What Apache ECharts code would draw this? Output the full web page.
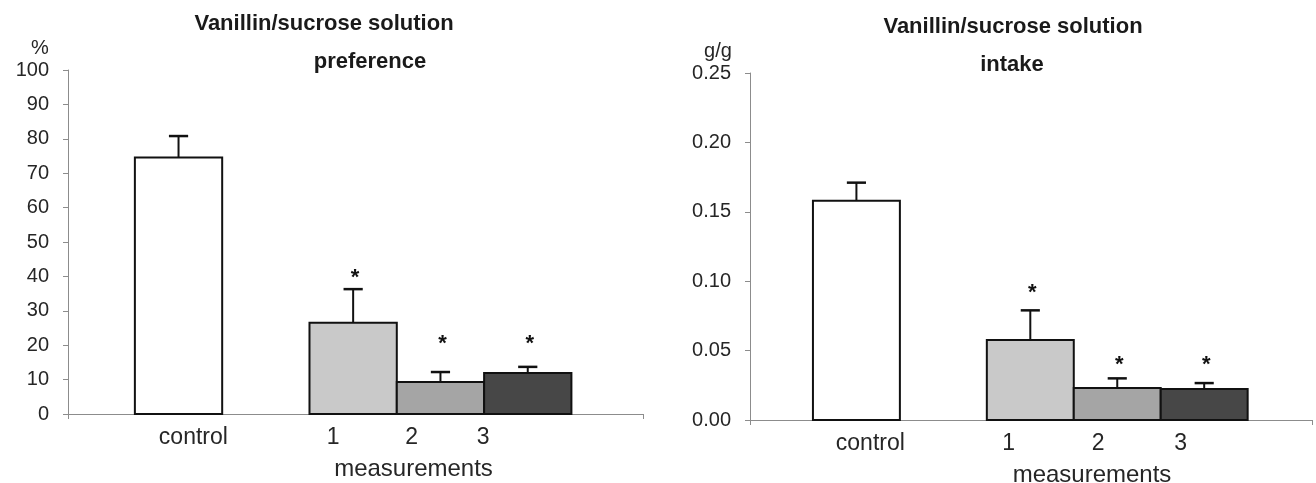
<!DOCTYPE html>
<html>
<head>
<meta charset="utf-8">
<script src="https://cdn.jsdelivr.net/npm/echarts@6/dist/echarts.min.js"></script>
<style>
  html, body { margin: 0; padding: 0; background: #fff; }
  #main { width: 1316px; height: 483px; }
</style>
</head>
<body>
<div id="main"></div>
<script>
// categories and slot on the x axis (one empty slot after control)
let categories = ['control', '1', '2', '3'];
let slotPos = [0, 2, 3, 4];

// preference (%)
let prefMean = [74.6, 26.5, 9.3, 11.9];
let prefSem = [6.2, 9.8, 2.9, 1.8];
let prefStar = [NaN, 41.3, 22.1, 22.1];

// intake (g/g)
let intakeMean = [0.158, 0.0576, 0.023, 0.0223];
let intakeSem = [0.013, 0.0214, 0.007, 0.0043];
let intakeStar = [NaN, 0.0958, 0.0439, 0.0439];

// where the category names sit under the axis
let prefLabelAt = [0.17, 1.77, 2.67, 3.49];
let intakeLabelAt = [0.16, 1.75, 2.78, 3.73];

let fills = ['#ffffff', '#c9c9c9', '#a5a5a5', '#474747'];
let txt = '#262626';
let font = "'Liberation Sans', Arial, sans-serif";

function rows(mean, sem, star) {
      let out = [];
      for (let i = 0; i < categories.length; i++) {
            out.push([slotPos[i], mean[i], sem[i], star[i], i]);
      }
      return out;
}

function renderBar(params, api) {
      let x = api.value(0);
      let m = api.value(1);
      let e = api.value(2);
      let s = api.value(3);
      let idx = api.value(4);
      let bl = api.coord([x - 0.5, 0]);
      let tr = api.coord([x + 0.5, m]);
      let top = api.coord([x, m + e]);
      let capW = api.size([0.22, 0])[0];
      let kids = [
            {
                  type: 'rect',
                  shape: { x: bl[0], y: tr[1], width: tr[0] - bl[0], height: bl[1] - tr[1] },
                  style: { fill: fills[idx], stroke: '#111', lineWidth: 2 }
            },
            {
                  type: 'line',
                  shape: { x1: top[0], y1: tr[1], x2: top[0], y2: top[1] },
                  style: { stroke: '#111', lineWidth: 2 }
            },
            {
                  type: 'line',
                  shape: { x1: top[0] - capW / 2, y1: top[1], x2: top[0] + capW / 2, y2: top[1] },
                  style: { stroke: '#111', lineWidth: 2.5 }
            }
      ];
      if (!isNaN(s)) {
            let sp = api.coord([x, s]);
            kids.push({
                  type: 'text',
                  style: {
                        text: '*', x: sp[0] + 2, y: sp[1] + 6,
                        align: 'center', verticalAlign: 'middle',
                        font: 'bold 22px ' + font, fill: '#111'
                  }
            });
      }
      return { type: 'group', children: kids };
}

function xAxisFor(grid, min, max, labelAt, nameShift) {
      return {
            gridIndex: grid,
            type: 'value',
            min: min,
            max: max,
            splitLine: { show: false },
            axisLine: { onZero: false, lineStyle: { color: '#8c8c8c', width: 1 } },
            axisTick: { show: true, customValues: [min, max], length: 5, lineStyle: { color: '#8c8c8c' } },
            axisLabel: {
                  customValues: labelAt,
                  formatter: function (v) {
                        let k = labelAt.indexOf(v);
                        return k >= 0 ? categories[k] : '';
                  },
                  color: txt, fontFamily: font, fontSize: 23, margin: 12
            },
            name: 'measurements',
            nameLocation: 'middle',
            nameGap: 43,
            nameTextStyle: { color: txt, fontFamily: font, fontSize: 24, padding: [0, 0, 0, nameShift] }
      };
}

function yAxisFor(grid, max, interval, name, namePad, fmt) {
      return {
            gridIndex: grid,
            type: 'value',
            min: 0,
            max: max,
            interval: interval,
            splitLine: { show: false },
            axisLine: { show: true, onZero: false, lineStyle: { color: '#8c8c8c', width: 1 } },
            axisTick: { show: true, length: 5, lineStyle: { color: '#8c8c8c' } },
            axisLabel: { color: txt, fontFamily: font, fontSize: 20, margin: 19, formatter: fmt },
            name: name,
            nameLocation: 'end',
            nameGap: 12,
            nameTextStyle: { color: txt, fontFamily: font, fontSize: 20, padding: [0, namePad, 0, 0] }
      };
}

let chart = echarts.init(document.getElementById('main'));
let option = {
      backgroundColor: '#ffffff',
      animation: false,
      title: [
            { text: 'Vanillin/sucrose solution', left: 319, top: 8, textAlign: 'center',
              textStyle: { fontFamily: font, fontWeight: 'bold', fontSize: 22, color: '#1a1a1a' } },
            { text: 'preference', left: 365, top: 46, textAlign: 'center',
              textStyle: { fontFamily: font, fontWeight: 'bold', fontSize: 22, color: '#1a1a1a' } },
            { text: 'Vanillin/sucrose solution', left: 1008, top: 11, textAlign: 'center',
              textStyle: { fontFamily: font, fontWeight: 'bold', fontSize: 22, color: '#1a1a1a' } },
            { text: 'intake', left: 1007, top: 49, textAlign: 'center',
              textStyle: { fontFamily: font, fontWeight: 'bold', fontSize: 22, color: '#1a1a1a' } }
      ],
      grid: [
            { left: 68, top: 70, width: 575, height: 344, outerBoundsMode: 'none' },
            { left: 750, top: 73, width: 562, height: 347, outerBoundsMode: 'none' }
      ],
      xAxis: [
            xAxisFor(0, -1.266, 5.32, prefLabelAt, 116),
            xAxisFor(1, -1.224, 5.24, intakeLabelAt, 122)
      ],
      yAxis: [
            yAxisFor(0, 100, 10, '%', 56, function (v) { return v; }),
            yAxisFor(1, 0.25, 0.05, 'g/g', 64, function (v) { return v.toFixed(2); })
      ],
      series: [
            {
                  type: 'custom', xAxisIndex: 0, yAxisIndex: 0,
                  renderItem: renderBar,
                  data: rows(prefMean, prefSem, prefStar)
            },
            {
                  type: 'custom', xAxisIndex: 1, yAxisIndex: 1,
                  renderItem: renderBar,
                  data: rows(intakeMean, intakeSem, intakeStar)
            }
      ]
};
chart.setOption(option);
</script>
</body>
</html>
